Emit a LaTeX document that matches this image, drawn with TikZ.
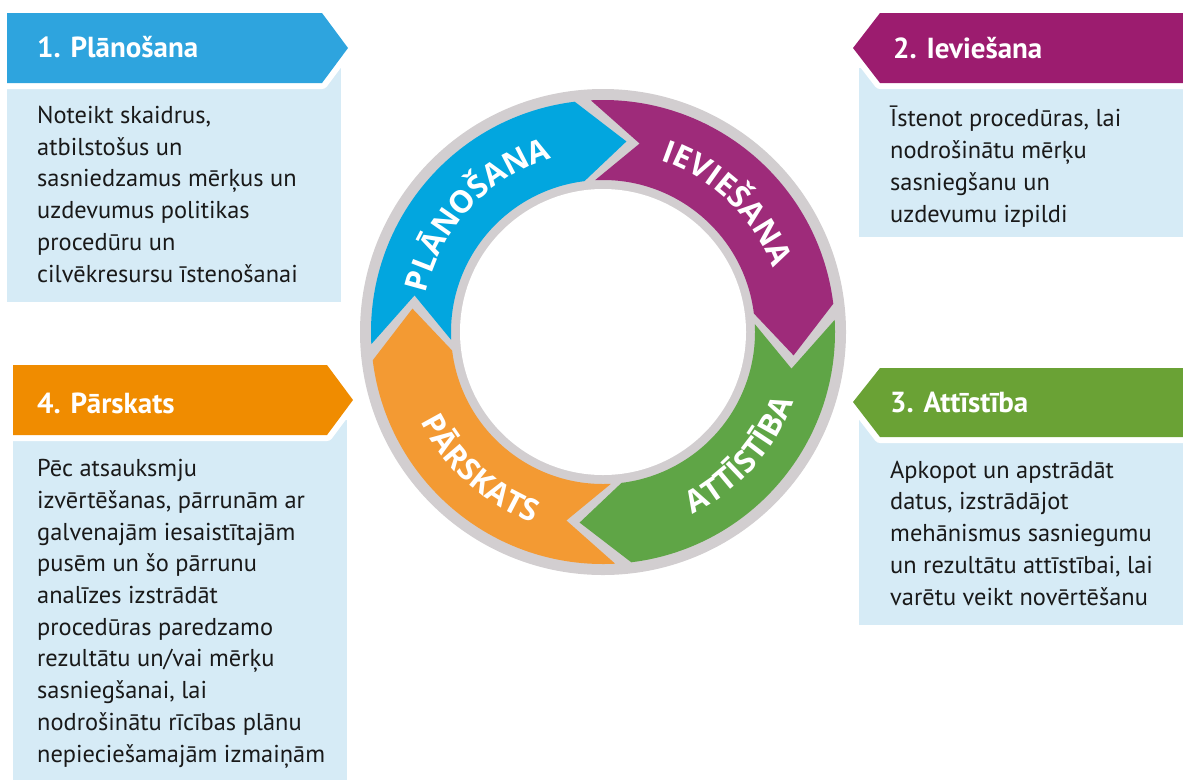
\documentclass[tikz,border=0pt]{standalone}
\usepackage{fontspec}
\setmainfont{PT Sans}
\newfontfamily\ringfamily{Open Sans}
\usetikzlibrary{decorations.text}

\definecolor{headblue}{HTML}{2EA4DE}
\definecolor{headpurple}{HTML}{9C1C6F}
\definecolor{headgreen}{HTML}{6AA235}
\definecolor{headorange}{HTML}{F08C00}
\definecolor{ringblue}{HTML}{02A6DF}
\definecolor{ringpurple}{HTML}{9E2B7A}
\definecolor{ringgreen}{HTML}{5FA546}
\definecolor{ringorange}{HTML}{F39A33}
\definecolor{ringgray}{HTML}{D2CED0}
\definecolor{bodyblue}{HTML}{D6EBF6}

\newcommand{\ringfont}{\color{white}\ringfamily\bfseries\fontsize{31}{33}\selectfont}

\tikzset{
    headtext/.style = {anchor = base west, inner sep = 0, text = white, font = \bfseries\fontsize{29}{32}\selectfont},
    % anchored at the baseline of the last line
    bodytext/.style = {anchor = base west, inner sep = 0, align = left, text = black!90, font = \fontsize{24.4}{31.7}\selectfont},
    halo/.style = {draw = white, line width = 12, line join = round},
}

\begin{document}
\begin{tikzpicture}[x = 1pt, y = 1pt]
    \useasboundingbox (0, 0) rectangle (1183, -780);

    % 1. Planosana
    \fill [bodyblue] (7, -68) rectangle (341, -302);
    \draw [halo] (7, -13) -- (322, -13) -- (348, -48) -- (322, -83) -- (7, -83) -- cycle;
    \fill [headblue] (7, -13) -- (322, -13) -- (348, -48) -- (322, -83) -- (7, -83) -- cycle;
    \node [headtext] (planhead) at (37, -57) {1. Plānošana};
    \node [bodytext] (plantext) at (37, -282) {Noteikt skaidrus,\\ atbilstošus un\\ sasniedzamus mērķus un\\ uzdevumus politikas\\ procedūru un\\ cilvēkresursu īstenošanai};

    % 2. Ieviesana
    \fill [bodyblue] (859, -68) rectangle (1183, -237);
    \draw [halo] (1183, -13) -- (880, -13) -- (853, -48) -- (880, -83) -- (1183, -83);
    \fill [headpurple] (1183, -13) -- (880, -13) -- (853, -48) -- (880, -83) -- (1183, -83) -- cycle;
    \node [headtext] (ievhead) at (893, -58) {2. Ieviešana};
    \node [bodytext] (ievtext) at (890, -222) {Īstenot procedūras, lai\\ nodrošinātu mērķu\\ sasniegšanu un\\ uzdevumu izpildi};

    % 3. Attistiba
    \fill [bodyblue] (859, -420) rectangle (1183, -625);
    \draw [halo] (1183, -368) -- (880, -368) -- (853, -402) -- (880, -437) -- (1183, -437);
    \fill [headgreen] (1183, -368) -- (880, -368) -- (853, -402) -- (880, -437) -- (1183, -437) -- cycle;
    \node [headtext] (atthead) at (890, -412) {3. Attīstība};
    \node [bodytext] (atttext) at (890, -605) {Apkopot un apstrādāt\\ datus, izstrādājot\\ mehānismus sasniegumu\\ un rezultātu attīstībai, lai\\ varētu veikt novērtēšanu};

    % 4. Parskats
    \fill [bodyblue] (13, -420) rectangle (347, -780);
    \draw [halo] (13, -365) -- (327, -365) -- (353, -400) -- (327, -435) -- (13, -435) -- cycle;
    \fill [headorange] (13, -365) -- (327, -365) -- (353, -400) -- (327, -435) -- (13, -435) -- cycle;
    \node [headtext] (parhead) at (37, -413) {4. Pārskats};
    \node [bodytext] (partext) at (37, -762) {Pēc atsauksmju\\ izvērtēšanas, pārrunām ar\\ galvenajām iesaistītajām\\ pusēm un šo pārrunu\\ analīzes izstrādāt\\ procedūras paredzamo\\ rezultātu un/vai mērķu\\ sasniegšanai, lai\\ nodrošinātu rīcības plānu\\ nepieciešamajām izmaiņām};

    % cycle
    \begin{scope}[shift = {(603, -332)}]
        \fill [ringgray] (0, 0) circle (243);
        \fill [white] (0, 0) circle (143);
        \foreach \col/\st in {ringorange/263, ringblue/173, ringpurple/83, ringgreen/-7} {
            \pgfmathsetmacro\en{\st - 90}
            \fill [\col] (\st + 10 : 232) arc (\st + 10 : \en + 14 : 232) -- (\en : 192) -- (\en + 14 : 152)
                arc (\en + 14 : \st + 10 : 152) -- (\st - 4 : 192) -- cycle;
        }
        \path [decorate, decoration = {text along path, text align = center, text = {|\ringfont|PLĀNOŠANA}}]
            (177 : 181) arc (177 : 97 : 181);
        \path [decorate, decoration = {text along path, text align = center, text = {|\ringfont|IEVIEŠANA}}]
            (86 : 181) arc (86 : 6 : 181);
        \path [decorate, decoration = {text along path, text align = center, text = {|\ringfont|ATTĪSTĪBA}}]
            (-82 : 203) arc (-82 : -2 : 203);
        \path [decorate, decoration = {text along path, text align = center, text = {|\ringfont|PĀRSKATS}}]
            (188 : 203) arc (188 : 268 : 203);
    \end{scope}

\end{tikzpicture}
\end{document}
